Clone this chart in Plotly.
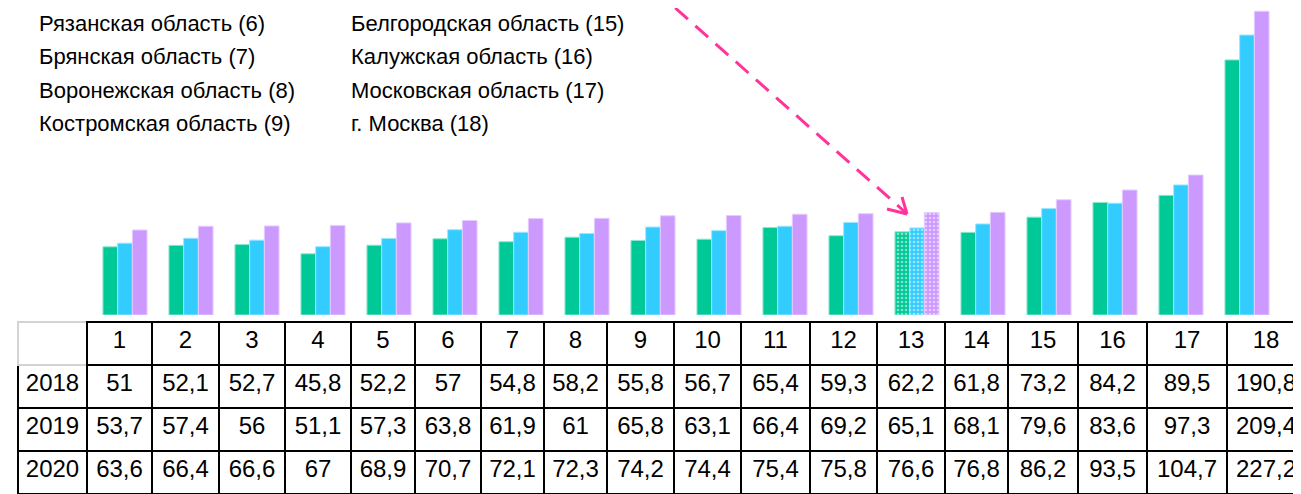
import plotly.graph_objects as go

W, H = 1301, 494
OFF = 8  # the page body has an 8px margin, so the figure starts 8px in

region_ids = [1, 2, 3, 4, 5, 6, 7, 8, 9, 10, 11, 12, 13, 14, 15, 16, 17, 18]
years = ["2018", "2019", "2020"]
v2018 = [51, 52.1, 52.7, 45.8, 52.2, 57, 54.8, 58.2, 55.8, 56.7, 65.4, 59.3, 62.2, 61.8, 73.2, 84.2, 89.5, 190.8]
v2019 = [53.7, 57.4, 56, 51.1, 57.3, 63.8, 61.9, 61, 65.8, 63.1, 66.4, 69.2, 65.1, 68.1, 79.6, 83.6, 97.3, 209.4]
v2020 = [63.6, 66.4, 66.6, 67, 68.9, 70.7, 72.1, 72.3, 74.2, 74.4, 75.4, 75.8, 76.6, 76.8, 86.2, 93.5, 104.7, 227.2]

# visible part of the region key (top of the picture is cut off)
left_ids = [5, 6, 7, 8, 9]
left_names = ["Смоленская область", "Рязанская область", "Брянская область",
              "Воронежская область", "Костромская область"]
right_ids = [14, 15, 16, 17, 18]
right_names = ["Тульская область", "Белгородская область", "Калужская область",
               "Московская область", "г. Москва"]
highlight = 13

colors = ["#00C896", "#33CCFF", "#CC99FF"]
edges = ["#8FE6CF", "#9BE6FF", "#E6CCFF"]
FONT = "Liberation Sans, Arial, sans-serif"


def px(x):
    # page pixel -> paper
    return (x - OFF) / W


def py(y):
    return 1 - (y - OFF) / H


def fmt(v):
    return f"{v:g}".replace(".", ",")


fig = go.Figure()
pat = ["." if r == highlight else "" for r in region_ids]
for yr, vals, c, e in zip(years, [v2018, v2019, v2020], colors, edges):
    fig.add_trace(go.Bar(
        x=region_ids, y=vals, name=yr,
        marker=dict(color=c, line=dict(color=e, width=1),
                    pattern=dict(shape=pat, fgcolor="white", fillmode="overlay",
                                 size=4, solidity=0.35)),
        hoverinfo="x+y",
    ))

col_widths = [69, 65, 67, 66, 66, 64, 66, 63, 63, 67, 67, 69, 67, 68, 63, 70, 69, 80, 78]
cell_cols = [years] + [[fmt(a), fmt(b), fmt(c)] for a, b, c in zip(v2018, v2019, v2020)]
fig.add_trace(go.Table(
    domain=dict(x=[px(18), px(18 + sum(col_widths))], y=[0, py(322)]),
    columnwidth=col_widths,
    header=dict(values=[""] + [str(r) for r in region_ids], height=43, align="center",
                font=dict(family=FONT, size=24, color="black"),
                line=dict(color=["#d3d3d3"] + ["black"] * 18, width=2),
                fill_color="white"),
    cells=dict(values=cell_cols, height=43, align="center",
               font=dict(family=FONT, size=24, color="black"),
               line=dict(color="black", width=2), fill_color="white"),
))

annotations = []
for col_x, ids, names in [(37, left_ids, left_names), (349, right_ids, right_names)]:
    for k, (i, n) in enumerate(zip(ids, names)):
        annotations.append(dict(x=px(col_x), y=py(-9 + 33 * k), xref="paper", yref="paper",
                                text=f"{n} ({i})", showarrow=False, xanchor="left", yanchor="middle",
                                font=dict(family=FONT, size=22, color="black")))

pink = "#FF3399"
shapes = [
    dict(type="line", xref="paper", yref="paper", x0=px(655), y0=py(-10), x1=px(905), y1=py(212),
         line=dict(color=pink, width=3, dash="17px,10px")),
    dict(type="line", xref="paper", yref="paper", x0=px(887), y0=py(209), x1=px(907), y1=py(214),
         line=dict(color=pink, width=3)),
    dict(type="line", xref="paper", yref="paper", x0=px(902), y0=py(197), x1=px(907), y1=py(214),
         line=dict(color=pink, width=3)),
]

# bar groups: group 1 centred at page x=125, 66px apart; 0 at page y=315, 1.337 px per unit
x_lo = 1 - (125 - OFF) / 66
x_hi = 1 + (W + OFF - 125) / 66
fig.update_layout(
    width=W, height=H,
    margin=dict(l=0, r=0, t=0, b=0),
    barmode="group", bargap=0.332, bargroupgap=0,
    showlegend=False,
    plot_bgcolor="white", paper_bgcolor="white",
    xaxis=dict(range=[x_lo, x_hi], visible=False),
    yaxis=dict(domain=[py(315), 1], range=[0, (315 - OFF) / 1.337], visible=False),
    annotations=annotations,
    shapes=shapes,
)

fig.write_html("out.html")
